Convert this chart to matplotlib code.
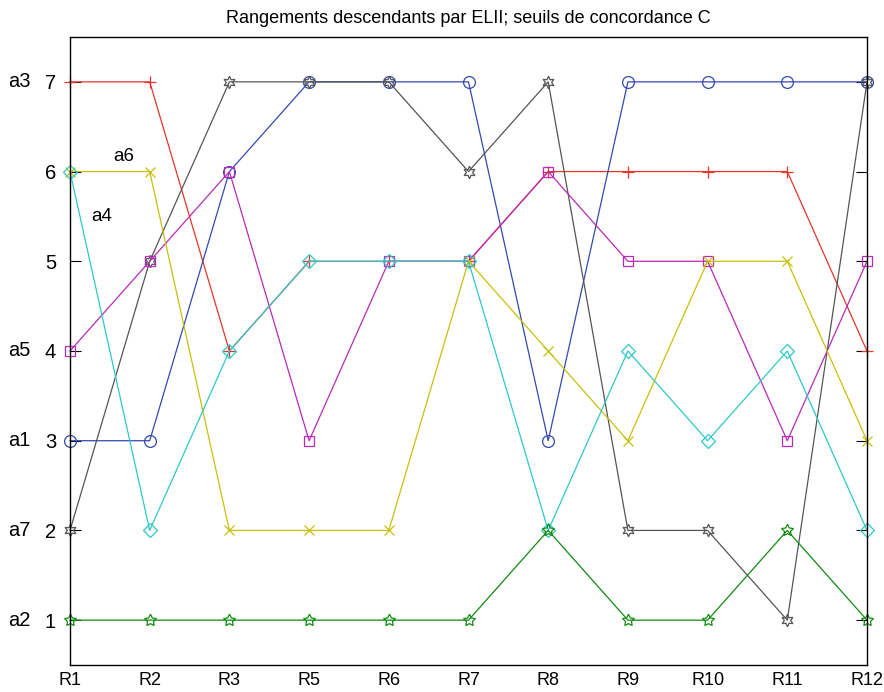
import matplotlib
matplotlib.use("Agg")
import matplotlib.pyplot as plt
import matplotlib.transforms as mtransforms

plt.rcParams['font.family'] = ['Liberation Sans', 'DejaVu Sans']

# Rankings per method
methods = ['R1', 'R2', 'R3', 'R5', 'R6', 'R7', 'R8', 'R9', 'R10', 'R11', 'R12']
red = [7, 7, 4, 5, 5, 5, 6, 6, 6, 6, 4]
blue = [3, 3, 6, 7, 7, 7, 3, 7, 7, 7, 7]
gray = [2, 5, 7, 7, 7, 6, 7, 2, 2, 1, 7]
magenta = [4, 5, 6, 3, 5, 5, 6, 5, 5, 3, 5]
yellow = [6, 6, 2, 2, 2, 5, 4, 3, 5, 5, 3]
cyan = [6, 2, 4, 5, 5, 5, 2, 4, 3, 4, 2]
green = [1, 1, 1, 1, 1, 1, 2, 1, 1, 2, 1]

# actions labelled on the left at their rank in R1
left_labels = {7: 'a3', 4: 'a5', 3: 'a1', 2: 'a7', 1: 'a2'}

fig = plt.figure(figsize=(8.84, 6.92), dpi=100)
ax = fig.add_axes([70 / 884, 27 / 692, 797 / 884, 628 / 692])

x = list(range(len(methods)))
series = [
    (red, '#e8352b', '+', 9),
    (blue, '#3448b0', 'o', 8.5),
    (gray, '#555555', (6, 1, 0), 9),
    (magenta, '#b82ab8', 's', 7),
    (yellow, '#c8c00c', 'x', 6.5),
    (cyan, '#2ec8c8', 'D', 7),
    (green, '#118a11', (5, 1, 0), 9),
]
for vals, col, mk, ms in series:
    ax.plot(x, vals, color=col, lw=0.9, marker=mk, ms=ms,
            mfc='none', mec=col, mew=0.9, clip_on=False)

ax.set_xlim(0, len(methods) - 1)
ax.set_ylim(0.5, 7.5)
ax.set_xticks(x)
ax.set_xticklabels(methods, fontsize=13)
ax.set_yticks(range(1, 8))
ax.tick_params(axis='x', length=0, pad=5)
ax.tick_params(axis='y', direction='in', length=8, width=0.8,
               right=True, labelsize=14.5, pad=10)
for sp in ax.spines.values():
    sp.set_linewidth(1.0)

trans = mtransforms.blended_transform_factory(fig.transFigure, ax.transData)
for yv, lab in left_labels.items():
    ax.text(8 / 884, yv, lab, transform=trans, fontsize=14.5,
            ha='left', va='center', clip_on=False)

ax.text(0.68, 6.17, 'a6', fontsize=13.5, ha='center', va='center')
ax.text(0.4, 5.5, 'a4', fontsize=13.5, ha='center', va='center')

ax.set_title('Rangements descendants par ELII; seuils de concordance C',
             fontsize=13, pad=10)

fig.savefig('out.png', dpi=100)
